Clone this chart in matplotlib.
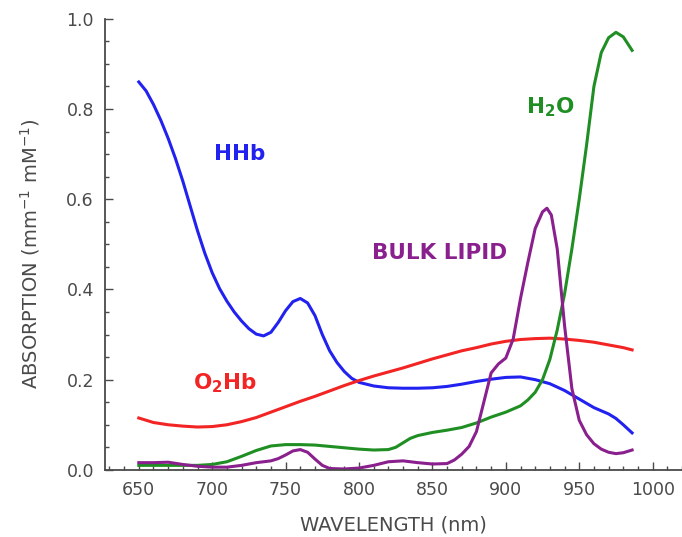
import matplotlib.pyplot as plt
from matplotlib.ticker import MultipleLocator, FormatStrFormatter

# Absorption spectra
hhb_wl = [650, 655, 660, 665, 670, 675, 680, 685, 690, 695, 700, 705, 710, 715, 720, 725, 730,
          735, 740, 745, 750, 755, 760, 765, 770, 775, 780, 785, 790, 795, 800, 810, 820, 830,
          840, 850, 860, 870, 880, 890, 900, 910, 920, 930, 940, 950, 960, 970, 975, 980, 986]
hhb_abs = [0.86, 0.84, 0.81, 0.775, 0.735, 0.69, 0.64, 0.585, 0.53, 0.48, 0.437, 0.402, 0.374,
           0.35, 0.33, 0.313, 0.301, 0.297, 0.305, 0.327, 0.353, 0.373, 0.38, 0.37, 0.342, 0.3,
           0.264, 0.238, 0.218, 0.203, 0.194, 0.186, 0.182, 0.181, 0.181, 0.182, 0.185, 0.19,
           0.196, 0.201, 0.205, 0.206, 0.2, 0.191, 0.176, 0.157, 0.138, 0.124, 0.114, 0.1, 0.082]

o2hb_wl = [650, 660, 670, 680, 690, 700, 710, 720, 730, 740, 750, 760, 770, 780, 790, 800,
           810, 820, 830, 840, 850, 860, 870, 880, 890, 900, 910, 920, 930, 940, 950, 960,
           970, 980, 986]
o2hb_abs = [0.115, 0.105, 0.10, 0.097, 0.095, 0.096, 0.10, 0.107, 0.116, 0.128, 0.14, 0.152,
            0.163, 0.175, 0.187, 0.198, 0.208, 0.217, 0.226, 0.236, 0.246, 0.255, 0.264, 0.271,
            0.279, 0.285, 0.289, 0.291, 0.292, 0.29, 0.287, 0.283, 0.277, 0.271, 0.266]

h2o_wl = [650, 660, 670, 680, 690, 700, 710, 720, 730, 740, 750, 760, 770, 780, 790, 800,
          810, 820, 825, 830, 835, 840, 850, 860, 870, 880, 890, 900, 910, 915, 920, 925, 930,
          935, 940, 945, 950, 955, 960, 965, 970, 975, 980, 986]
h2o_abs = [0.01, 0.01, 0.01, 0.01, 0.01, 0.012, 0.018, 0.03, 0.043, 0.053, 0.056, 0.056,
           0.055, 0.052, 0.049, 0.046, 0.044, 0.045, 0.05, 0.06, 0.07, 0.076, 0.083, 0.088,
           0.094, 0.104, 0.117, 0.128, 0.142, 0.155, 0.172, 0.2, 0.245, 0.31, 0.39, 0.49,
           0.6, 0.72, 0.85, 0.925, 0.958, 0.97, 0.96, 0.93]

lipid_wl = [650, 660, 670, 680, 690, 700, 710, 720, 730, 740, 745, 750, 755, 760, 765, 770,
            775, 780, 790, 800, 810, 820, 830, 840, 850, 860, 865, 870, 875, 880, 885, 890,
            895, 900, 905, 910, 915, 920, 925, 928, 931, 935, 940, 945, 950, 955, 960, 965,
            970, 975, 980, 986]
lipid_abs = [0.016, 0.016, 0.017, 0.012, 0.008, 0.006, 0.006, 0.01, 0.016, 0.02, 0.025, 0.033,
             0.042, 0.045, 0.039, 0.024, 0.01, 0.003, 0.002, 0.004, 0.01, 0.018, 0.02, 0.016,
             0.013, 0.014, 0.022, 0.035, 0.052, 0.085, 0.15, 0.215, 0.235, 0.248, 0.29, 0.38,
             0.46, 0.535, 0.572, 0.58, 0.565, 0.49, 0.32, 0.18, 0.11, 0.078, 0.058, 0.046,
             0.039, 0.036, 0.038, 0.044]

series = [
    (hhb_wl, hhb_abs, '#2222f0', 'HHb', 719, 0.70),
    (o2hb_wl, o2hb_abs, '#f22424', r'O$_\mathbf{2}$Hb', 709, 0.193),
    (h2o_wl, h2o_abs, '#1f8f23', r'H$_\mathbf{2}$O', 930, 0.805),
    (lipid_wl, lipid_abs, '#8a1f8e', 'BULK LIPID', 855, 0.48),
]

plt.rcParams['font.family'] = ['DejaVu Sans']
plt.rcParams['mathtext.fontset'] = 'dejavusans'
plt.rcParams['mathtext.default'] = 'regular'

grey = '#4a4a4a'

fig = plt.figure(figsize=(6.82, 5.37), dpi=100)
ax = fig.add_axes([0.154, 0.125, 0.846, 0.84])

for wl, vals, color, name, tx, ty in series:
    ax.plot(wl, vals, color=color, lw=2.2)
    ax.text(tx, ty, name, color=color, fontsize=15.5, fontweight='bold',
            ha='center', va='center')

# Axes styling
ax.set_xlim(627, 1020)
ax.set_ylim(0, 1.0)
ax.xaxis.set_major_locator(MultipleLocator(50))
ax.xaxis.set_minor_locator(MultipleLocator(10))
ax.yaxis.set_major_locator(MultipleLocator(0.2))
ax.yaxis.set_minor_locator(MultipleLocator(0.05))
ax.yaxis.set_major_formatter(FormatStrFormatter('%.1f'))
for side in ['top', 'right']:
    ax.spines[side].set_visible(False)
for side in ['left', 'bottom']:
    ax.spines[side].set_color(grey)
    ax.spines[side].set_linewidth(1.3)
ax.tick_params(which='both', direction='in', colors=grey, labelcolor=grey,
               labelsize=12.5, width=1)
ax.tick_params(which='major', length=6, pad=8)
ax.tick_params(which='minor', length=3)
ax.set_xlabel('WAVELENGTH (nm)', fontsize=14, color=grey, labelpad=12)
ax.set_ylabel(r'ABSORPTION (mm$^{-1}$ mM$^{-1}$)', fontsize=14, color=grey, labelpad=16)
ax.yaxis.set_label_coords(-0.11, 0.48)

fig.savefig('out.png', dpi=100)
plt.close(fig)
